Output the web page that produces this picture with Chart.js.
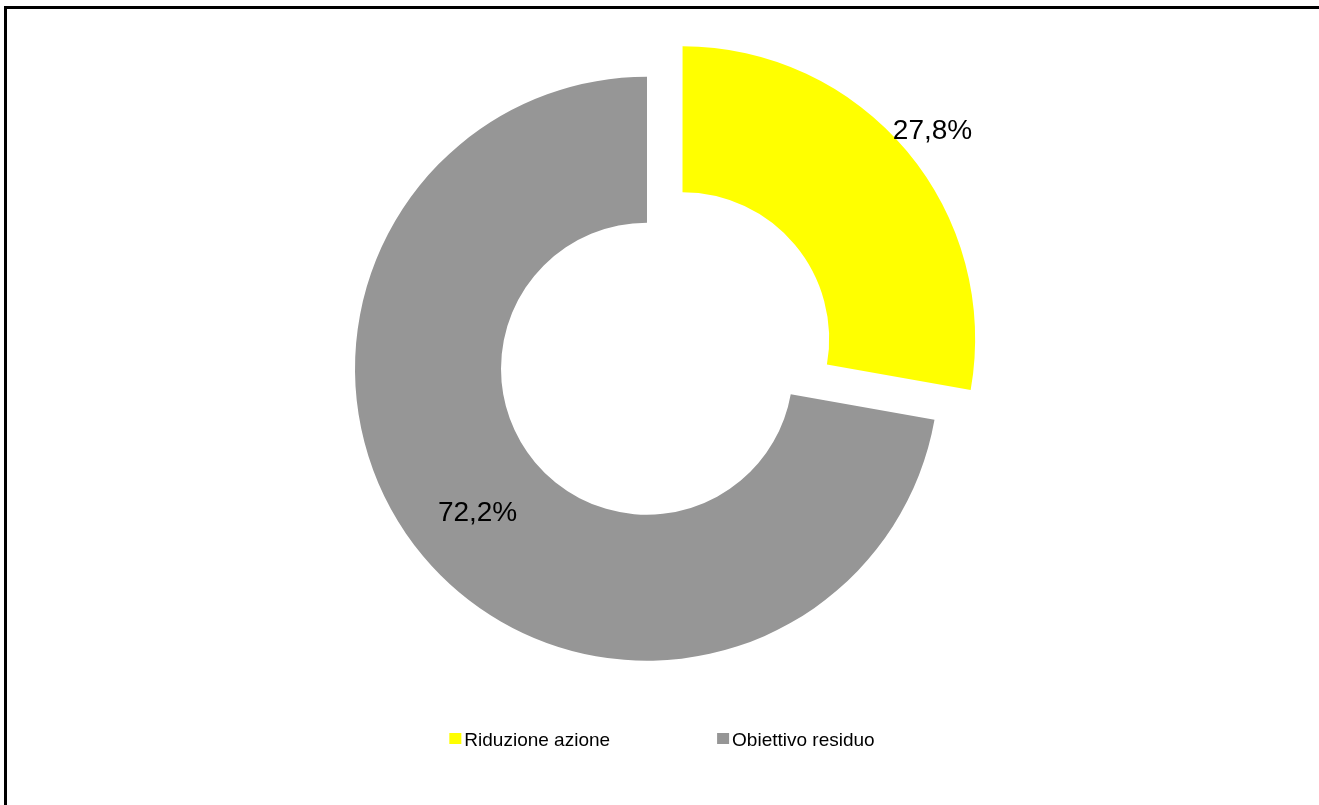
<!DOCTYPE html>
<html>
<head>
<meta charset="utf-8">
<script src="https://cdn.jsdelivr.net/npm/chart.js@4/dist/chart.umd.min.js"></script>
<style>
  html, body { margin: 0; padding: 0; background: #fff; overflow: hidden; }
  #wrap { position: relative; width: 1319px; height: 805px; }
  #frame { position: absolute; left: 4px; top: 6px; width: 1400px; height: 900px;
           border: 3px solid #000; box-sizing: border-box; pointer-events: none; }
  canvas { position: absolute; left: 0; top: 0; }
</style>
</head>
<body>
<div id="wrap">
  <canvas id="c" width="1319" height="805"></canvas>
  <div id="frame"></div>
</div>
<script>
const categories = ['Riduzione azione', 'Obiettivo residuo'];
const shareValues = [27.8, 72.2];
const sliceColors = ['#FFFF00', '#969696'];

const FONT = '"Liberation Sans", Arial, sans-serif';

const labelPlugin = {
  id: 'sliceLabels',
  afterDatasetsDraw(chart) {
    const ctx = chart.ctx;
    const meta = chart.getDatasetMeta(0);
    const radial = [1.115, 0.757];
    ctx.save();
    ctx.font = '28px ' + FONT;
    ctx.fillStyle = '#000';
    ctx.textAlign = 'center';
    ctx.textBaseline = 'alphabetic';
    meta.data.forEach((arc, i) => {
      const p = arc.getProps(['x', 'y', 'startAngle', 'endAngle', 'outerRadius', 'circumference']);
      const mid = (p.startAngle + p.endAngle) / 2;
      const off = (arc.options.offset || 0) / 4;
      const fix = 1 - Math.sin(Math.min(Math.PI, p.circumference || 0));
      const tr = off * (1 + fix);
      const cx = p.x + Math.cos(mid) * tr;
      const cy = p.y + Math.sin(mid) * tr;
      const r = p.outerRadius * radial[i];
      const lx = cx + Math.cos(mid) * r;
      const ly = cy + Math.sin(mid) * r;
      const txt = shareValues[i].toFixed(1).replace('.', ',') + '%';
      ctx.fillText(txt, lx, ly + 0.358 * 28);
    });
    ctx.restore();
  }
};

const legendPlugin = {
  id: 'customLegend',
  afterDraw(chart) {
    const ctx = chart.ctx;
    ctx.save();
    ctx.font = '19px ' + FONT;
    ctx.textBaseline = 'alphabetic';
    const box = 12, boxH = 11, gapText = 3, gapItem = 107;
    const widths = categories.map(t => box + gapText + ctx.measureText(t).width);
    const total = widths.reduce((a, b) => a + b, 0) + gapItem * (categories.length - 1);
    let x = 662 - total / 2;
    const baseline = 746;
    categories.forEach((t, i) => {
      ctx.fillStyle = sliceColors[i];
      ctx.fillRect(x, 733, box, boxH);
      ctx.fillStyle = '#000';
      ctx.fillText(t, x + box + gapText, baseline);
      x += widths[i] + gapItem;
    });
    ctx.restore();
  }
};

new Chart(document.getElementById('c'), {
  type: 'doughnut',
  data: {
    labels: categories,
    datasets: [{
      data: shareValues,
      backgroundColor: sliceColors,
      borderWidth: 0,
      offset: [185, 0],
      hoverOffset: 0
    }]
  },
  options: {
    responsive: false,
    animation: false,
    events: [],
    radius: 292,
    cutout: '50%',
    layout: { padding: { left: 0, right: 25, top: 0, bottom: 67.6 } },
    plugins: {
      legend: { display: false },
      tooltip: { enabled: false }
    }
  },
  plugins: [labelPlugin, legendPlugin]
});
</script>
</body>
</html>
